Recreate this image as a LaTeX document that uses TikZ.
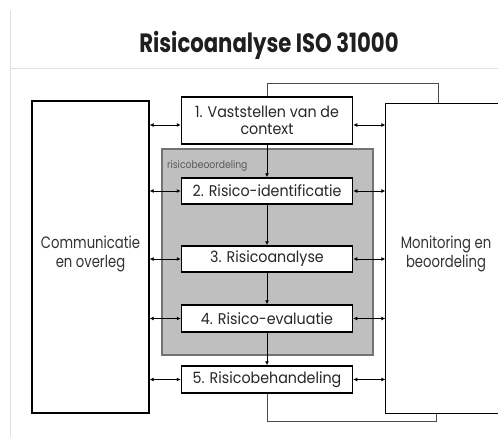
\documentclass[tikz,border=0pt]{standalone}
\usepackage{fontspec}
\setmainfont{Poppins}
\newfontfamily\titlefont{Poppins}[FakeStretch=0.8]
\newfontfamily\stepfont{Poppins}[FakeStretch=0.92]
\newfontfamily\sidefont{Poppins}[FakeStretch=0.8]
\newfontfamily\lblfont{Poppins}[FakeStretch=0.88]
\usetikzlibrary{arrows.meta}
\begin{document}
\begin{tikzpicture}[x=1pt,y=-1pt,
  stepbox/.style={draw=black,line width=1.5pt,fill=white,minimum width=171pt,inner sep=0pt,font=\stepfont\fontsize{15.5}{17}\selectfont,text=black!85,align=center},
  sidebox/.style={line width=1.3pt,inner sep=0pt,font=\sidefont\fontsize{16.5}{19.5}\selectfont,text=black!80,align=center},
  link/.style={line width=1pt,{Latex[length=4pt,width=4pt]}-{Latex[length=4pt,width=4pt]}},
  flow/.style={line width=1pt,-{Latex[length=4pt,width=4pt]}},
  loop/.style={line width=1pt,draw=black!70},
  frame/.style={draw=black!12,line width=0.8pt}]
\useasboundingbox (0,0) rectangle (498,439);
\fill[white] (0,0) rectangle (498,439);
% page frame lines
\coordinate (fl1) at (10.7,10); \coordinate (fl2) at (10.7,437);
\coordinate (fh1) at (11,68); \coordinate (fh2) at (498,68);
\draw[frame] (fl1) -- (fl2);
\draw[frame] (fh1) -- (fh2);
% title
\node[font=\titlefont\bfseries\fontsize{26.5}{30}\selectfont,text=black!88] (title) at (269,45) {Risicoanalyse ISO 31000};
% gray assessment box
\node[draw=black!55,fill=black!25,line width=1.2pt,minimum width=211pt,minimum height=206pt,inner sep=0pt] (gray) at (267.5,252) {};
\node[anchor=west,font=\lblfont\fontsize{10.5}{12}\selectfont,text=black!65,inner sep=0pt] (graylbl) at (167,165.5) {risicobeoordeling};
% side boxes
\node[sidebox,draw=black,minimum width=117pt,minimum height=312pt] (comm) at (90.5,257) {};
\node[sidebox] (commtxt) at (90.5,254) {Communicatie\\en overleg};
\node[sidebox,minimum width=112pt,minimum height=309pt] (mon) at (442,258.5) {};
\node[sidebox] (montxt) at (446,254) {Monitoring en\\beoordeling};
\draw[line width=1.3pt] (mon.north east) -- (mon.north west) -- (mon.south west) -- (mon.south east);
% steps
\node[stepbox,minimum height=47pt] (s1) at (267,120.5) {1. Vaststellen van de\\context};
\node[stepbox,minimum height=26pt] (s2) at (267,191) {2. Risico-identificatie};
\node[stepbox,minimum height=26pt] (s3) at (267,259) {3. Risicoanalyse};
\node[stepbox,minimum height=27pt] (s4) at (267,318.5) {4. Risico-evaluatie};
\node[stepbox,minimum height=27pt] (s5) at (267,379.5) {5. Risicobehandeling};
% vertical flow
\draw[flow] (s1) -- (s2);
\draw[flow] (s2) -- (s3);
\draw[flow] (s3) -- (s4);
\draw[flow] (s4) -- (s5);
% horizontal links
\draw[link] (comm.east |- 0,125) -- (s1.west |- 0,125);
\draw[link] (s1.east |- 0,125) -- (mon.west |- 0,125);
\foreach \s in {s2,s3,s4,s5}{
  \draw[link] (comm.east |- \s.west) -- (\s.west);
  \draw[link] (\s.east) -- (mon.west |- \s.east);
}
% loops
\coordinate (tl) at (267,83); \coordinate (tr) at (438,83);
\draw[loop] (s1.north) -- (tl) -- (tr) -- (tr |- mon.north);
\coordinate (bl) at (267,421); \coordinate (br) at (436,421);
\draw[loop] (s5.south) -- (bl) -- (br) -- (br |- mon.south);
\end{tikzpicture}
\end{document}
